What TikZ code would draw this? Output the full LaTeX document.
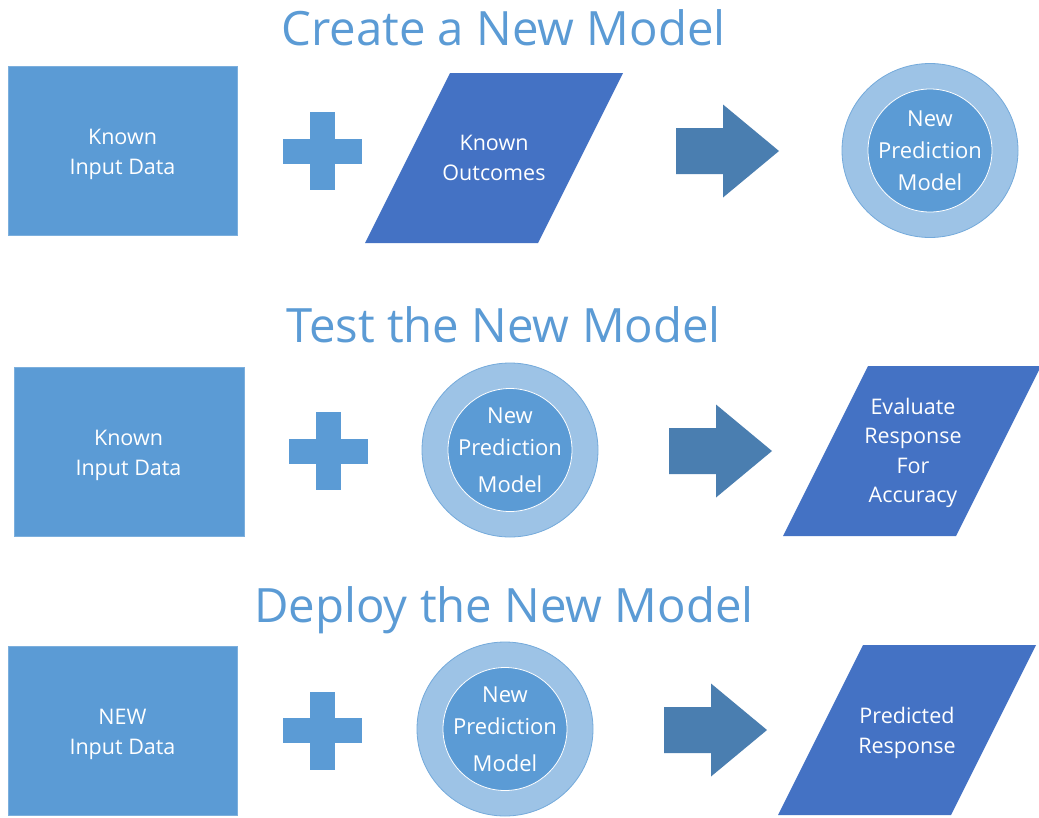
\documentclass[tikz,border=0pt]{standalone}
\usepackage{fontspec}
\setmainfont{Open Sans}
\definecolor{rectblue}{HTML}{5B9BD5}
\definecolor{parablue}{HTML}{4472C4}
\definecolor{arrowblue}{HTML}{4A7EB0}
\definecolor{ringblue}{HTML}{9DC3E6}
\tikzset{
  titletext/.style={text=rectblue, font=\fontsize{47.3}{57}\selectfont, anchor=base, inner sep=0pt},
  bodytext/.style={text=white, font=\fontsize{21.5}{30}\selectfont, align=center, inner sep=0pt},
  ringtext/.style={text=white, font=\fontsize{22}{32}\selectfont, align=center, inner sep=0pt},
  datarect/.style={fill=rectblue, draw=rectblue!80!white, line width=0.6pt},
  plussign/.pic={
    \fill[rectblue] (-39.5,-12.5) rectangle (39.5,12.5);
    \fill[rectblue] (-12.5,-39) rectangle (12.5,39);
  },
  bigarrow/.pic={
    \fill[arrowblue] (0,-23) -- (47,-23) -- (47,-46.5) -- (103,0) -- (47,46.5) -- (47,23) -- (0,23) -- cycle;
  },
  ring/.pic={
    \filldraw[fill=ringblue, draw=rectblue!85!white, line width=0.8pt] (0,0) ellipse [x radius=88pt, y radius=87pt];
    \filldraw[fill=rectblue, draw=white, line width=0.8pt] (0,0) ellipse [x radius=62pt, y radius=61.5pt];
  },
  slant/.pic={
    \fill[parablue] (0,0) -- (85,-170) -- (258,-170) -- (173,0) -- cycle;
  }
}
\begin{document}
\begin{tikzpicture}[x=1pt,y=-1pt]
\useasboundingbox[fill=white] (0,0) rectangle (1039,817);

% ---------- Row 1 ----------
\node[titletext] (t1) at (503.5,45) {Create a New Model};
\draw[datarect] (8,66) rectangle (237,235);
\node[bodytext] (r1in) at (122.5,154) {Known\\Input Data};
\pic (r1plus) at (322.5,151) {plussign};
\pic (r1para) at (365,243) {slant};
\node[bodytext] (r1out) at (494,158) {Known\\Outcomes};
\pic (r1arrow) at (676,151) {bigarrow};
\pic (r1ring) at (930,150.5) {ring};
\node[ringtext] (r1model) at (930,150.5) {New\\Prediction\\Model};

% ---------- Row 2 ----------
\node[titletext] (t2) at (503.5,342) {Test the New Model};
\draw[datarect] (14,367) rectangle (244,536);
\node[bodytext] (r2in) at (128.5,455) {Known\\Input Data};
\pic (r2plus) at (328.5,451) {plussign};
\pic (r2ring) at (510,450) {ring};
\node[ringtext] (r2model) at (510,450) {New\\Prediction\\[5pt]Model};
\pic (r2arrow) at (669,451) {bigarrow};
\pic (r2para) at (783,536) {slant};
\node[bodytext, font=\fontsize{21.5}{29.6}\selectfont] (r2out) at (913,453) {Evaluate\\Response\\For\\Accuracy};

% ---------- Row 3 ----------
\node[titletext] (t3) at (504,622) {Deploy the New Model};
\draw[datarect] (8,646) rectangle (237,815);
\node[bodytext] (r3in) at (122.5,734.5) {NEW\\Input Data};
\pic (r3plus) at (322.5,730.5) {plussign};
\pic (r3ring) at (505,729) {ring};
\node[ringtext] (r3model) at (505,729.5) {New\\Prediction\\[5pt]Model};
\pic (r3arrow) at (664,730) {bigarrow};
\pic (r3para) at (778,815) {slant};
\node[bodytext] (r3out) at (907,732.5) {Predicted\\Response};
\end{tikzpicture}
\end{document}
